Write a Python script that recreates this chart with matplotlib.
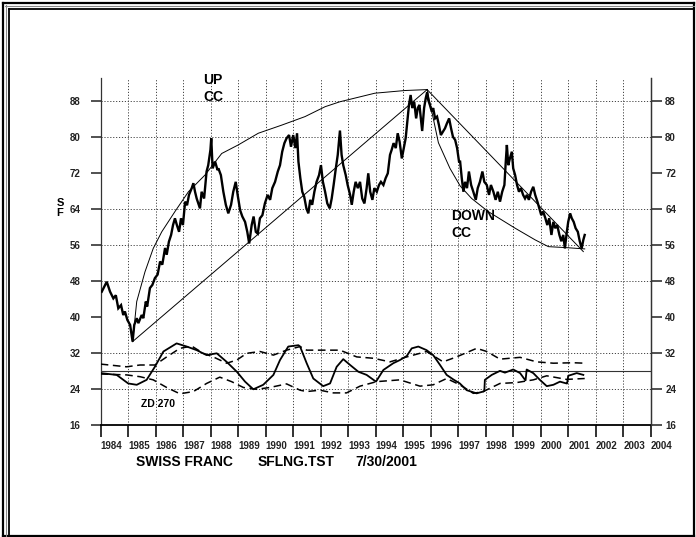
import matplotlib
matplotlib.use('Agg')
import matplotlib.pyplot as plt
from matplotlib.lines import Line2D

plt.rcParams['font.family'] = ['Liberation Sans', 'DejaVu Sans']

# ---------------- data ----------------
year_ticks = list(range(1984, 2005))
y_ticks = [16, 24, 32, 40, 48, 56, 64, 72, 80, 88]
grid_y = [24, 32, 48, 56, 64, 80, 88]
ref_level = 28

price_t = [1984.04, 1984.22, 1984.34, 1984.46, 1984.55, 1984.64, 1984.74, 1984.82, 1984.88, 1984.97,
           1985.07, 1985.16, 1985.22, 1985.31, 1985.37, 1985.49, 1985.55, 1985.64, 1985.69, 1985.79,
           1985.88, 1985.97, 1986.07, 1986.16, 1986.24, 1986.34, 1986.40, 1986.48, 1986.56, 1986.63,
           1986.70, 1986.77, 1986.85, 1986.92, 1986.99, 1987.07, 1987.14, 1987.21, 1987.31, 1987.37,
           1987.43, 1987.49, 1987.61, 1987.67, 1987.76, 1987.85, 1987.91, 1987.99, 1988.02, 1988.07,
           1988.16, 1988.25, 1988.28, 1988.37, 1988.46, 1988.55, 1988.64, 1988.74, 1988.82, 1988.91,
           1988.98, 1989.07, 1989.15, 1989.25, 1989.33, 1989.40, 1989.49, 1989.56, 1989.64, 1989.71,
           1989.79, 1989.88, 1989.97, 1990.07, 1990.16, 1990.24, 1990.34, 1990.44, 1990.52, 1990.60,
           1990.68, 1990.76, 1990.85, 1990.92, 1991.00, 1991.08, 1991.14, 1991.19, 1991.26, 1991.33,
           1991.40, 1991.48, 1991.55, 1991.62, 1991.69, 1991.77, 1991.85, 1991.94, 1992.01, 1992.08,
           1992.16, 1992.24, 1992.33, 1992.40, 1992.47, 1992.55, 1992.62, 1992.70, 1992.76, 1992.82,
           1992.91, 1992.98, 1993.07, 1993.13, 1993.20, 1993.27, 1993.35, 1993.43, 1993.51, 1993.59,
           1993.67, 1993.73, 1993.80, 1993.88, 1993.95, 1994.04, 1994.12, 1994.19, 1994.28, 1994.36,
           1994.44, 1994.52, 1994.58, 1994.65, 1994.73, 1994.80, 1994.87, 1994.95, 1995.02, 1995.09,
           1995.15, 1995.21, 1995.27, 1995.33, 1995.40, 1995.47, 1995.53, 1995.59, 1995.65, 1995.69,
           1995.76, 1995.82, 1995.87, 1995.91, 1995.97, 1996.04, 1996.09, 1996.16, 1996.23, 1996.30,
           1996.37, 1996.44, 1996.52, 1996.59, 1996.67, 1996.74, 1996.81, 1996.89, 1996.96, 1997.03,
           1997.07, 1997.13, 1997.19, 1997.25, 1997.32, 1997.39, 1997.47, 1997.55, 1997.64, 1997.71,
           1997.79, 1997.88, 1997.95, 1998.04, 1998.12, 1998.19, 1998.28, 1998.36, 1998.44, 1998.52,
           1998.60, 1998.68, 1998.73, 1998.77, 1998.82, 1998.88, 1998.95, 1999.00, 1999.07, 1999.14,
           1999.21, 1999.28, 1999.36, 1999.43, 1999.50, 1999.57, 1999.65, 1999.73, 1999.80, 1999.88,
           1999.95, 2000.02, 2000.09, 2000.17, 2000.24, 2000.31, 2000.39, 2000.46, 2000.53, 2000.60,
           2000.68, 2000.75, 2000.82, 2000.88, 2000.95, 2001.00, 2001.07, 2001.13, 2001.20, 2001.27,
           2001.35, 2001.42, 2001.49, 2001.55, 2001.60]
price_v = [45.7, 47.9, 45.7, 44.2, 44.9, 42.0, 42.7, 40.5, 41.3, 39.4,
           38.3, 34.6, 38.3, 39.8, 38.7, 40.5, 39.8, 43.5, 42.4, 46.5,
           47.2, 48.7, 49.5, 52.4, 51.7, 55.4, 53.9, 56.8, 58.3, 60.5,
           62.0, 60.5, 59.0, 62.0, 60.5, 65.7, 64.9, 67.2, 68.7, 69.8,
           67.9, 66.4, 64.2, 67.9, 66.4, 72.4, 73.8, 77.2, 79.8, 73.1,
           74.6, 72.7, 73.1, 71.6, 67.9, 65.0, 63.1, 65.0, 67.9, 70.1,
           67.2, 63.8, 62.4, 61.2, 59.0, 56.4, 60.5, 62.4, 59.0, 58.6,
           62.0, 62.7, 65.3, 67.2, 66.1, 68.7, 70.1, 72.4, 73.8, 76.8,
           78.7, 79.8, 80.5, 77.9, 80.5, 77.6, 80.9, 74.6, 70.9, 67.9,
           66.8, 64.2, 63.1, 66.1, 65.0, 67.9, 70.1, 71.6, 73.8, 70.1,
           67.9, 65.3, 64.2, 66.4, 69.4, 73.1, 76.1, 81.5, 76.1, 73.8,
           71.6, 69.4, 67.2, 65.0, 67.9, 70.1, 68.7, 70.1, 66.4, 65.3,
           68.7, 72.0, 67.9, 66.1, 68.7, 67.9, 69.4, 70.1, 69.4, 70.9,
           72.0, 76.1, 77.2, 78.7, 77.6, 80.9, 79.0, 75.3, 77.6, 79.8,
           83.6, 87.2, 89.4, 86.5, 87.9, 84.2, 86.5, 87.2, 83.6, 81.4,
           86.5, 88.7, 90.0, 88.3, 87.2, 85.7, 86.5, 84.2, 84.6, 82.7,
           80.5, 81.2, 82.0, 83.1, 84.2, 82.0, 80.1, 79.4, 77.6, 74.6,
           74.6, 70.9, 67.9, 70.1, 68.7, 72.4, 69.4, 67.9, 66.1, 68.7,
           70.1, 72.4, 70.1, 69.4, 67.2, 69.4, 67.9, 66.1, 67.9, 65.7,
           67.9, 69.4, 74.6, 78.3, 73.8, 75.3, 76.8, 73.1, 71.6, 69.4,
           67.9, 68.7, 67.2, 66.4, 67.2, 66.1, 67.9, 69.0, 67.2, 65.7,
           64.2, 62.7, 63.5, 62.0, 60.5, 62.0, 58.3, 61.2, 59.8, 60.5,
           58.3, 56.9, 58.3, 55.3, 59.0, 61.2, 63.1, 62.0, 61.2, 59.8,
           59.0, 56.9, 55.3, 57.2, 58.3]

up_cc_t = [1985.16, 1985.31, 1985.61, 1985.91, 1986.22, 1986.70, 1987.19, 1987.79, 1988.40,
           1989.00, 1989.73, 1990.58, 1991.43, 1992.16, 1992.70, 1993.97, 1995.07, 1995.87]
up_cc_v = [34.6, 43.5, 50.1, 55.3, 59.0, 63.5, 67.9, 71.6, 76.4,
           78.3, 80.9, 82.7, 84.6, 86.8, 87.9, 89.8, 90.4, 90.6]
up_chord_t = [1985.16, 1995.87]
up_chord_v = [34.6, 90.6]

down_cc_t = [1995.87, 1996.10, 1996.28, 1996.70, 1997.07, 1997.49, 1998.09, 1999.07, 1999.80,
             2000.28, 2000.88, 2001.60]
down_cc_v = [90.6, 84.0, 78.8, 73.1, 69.2, 66.4, 63.5, 59.8, 57.2,
             55.7, 55.5, 55.2]
down_chord_t = [1995.87, 2001.55]
down_chord_v = [90.6, 54.6]

osc_t = [1984.00, 1984.58, 1985.00, 1985.31, 1985.67, 1985.97, 1986.28, 1986.76, 1987.13, 1987.49,
         1987.85, 1988.22, 1988.58, 1988.95, 1989.25, 1989.55, 1989.91, 1990.28, 1990.52, 1990.82,
         1991.19, 1991.25, 1991.49, 1991.73, 1992.09, 1992.34, 1992.58, 1992.82, 1993.07, 1993.37,
         1993.67, 1994.01, 1994.28, 1994.64, 1994.88, 1995.13, 1995.31, 1995.55, 1995.85, 1996.09,
         1996.34, 1996.58, 1996.82, 1997.06, 1997.31, 1997.67, 1997.91, 1997.95, 1997.97, 1998.22,
         1998.52, 1998.70, 1999.00, 1999.25, 1999.43, 1999.45, 1999.49, 1999.73, 1999.97, 2000.22,
         2000.46, 2000.70, 2000.94, 2000.96, 2001.00, 2001.31, 2001.55]
osc_v = [27.6, 27.2, 25.3, 25.0, 26.1, 29.0, 32.4, 34.2, 33.5, 32.7,
         31.6, 32.0, 30.1, 27.9, 25.7, 24.0, 25.0, 27.2, 30.5, 33.5,
         33.8, 33.5, 29.8, 26.4, 24.7, 25.3, 29.0, 30.7, 29.4, 27.9,
         27.2, 25.7, 28.3, 29.8, 30.5, 31.4, 33.1, 33.5, 32.7, 31.6,
         29.4, 27.2, 26.2, 25.3, 23.8, 23.1, 23.5, 23.6, 26.1, 27.2,
         28.1, 27.7, 28.4, 27.6, 26.1, 26.0, 28.4, 27.6, 26.1, 24.7,
         25.0, 25.7, 25.3, 25.3, 27.0, 27.6, 27.2]

upper_t = [1984.00, 1984.94, 1985.43, 1985.97, 1986.40, 1986.88, 1987.31, 1987.73, 1988.09, 1988.58,
           1988.95, 1989.31, 1989.79, 1990.28, 1990.76, 1991.25, 1991.49, 1991.97, 1992.70, 1993.31,
           1993.91, 1994.52, 1995.13, 1995.85, 1996.45, 1996.94, 1997.67, 1998.04, 1998.52, 1999.25,
           1999.85, 2000.46, 2001.19, 2001.60]
upper_v = [29.6, 29.0, 29.4, 29.4, 31.2, 33.1, 33.6, 32.0, 31.2, 29.8,
           30.5, 32.0, 32.4, 31.6, 32.7, 33.5, 32.7, 32.7, 32.7, 31.2,
           30.9, 30.1, 31.2, 32.4, 30.1, 31.2, 33.1, 32.4, 30.7, 31.1,
           30.1, 29.8, 29.9, 29.8]

lower_t = [1984.00, 1984.94, 1985.43, 1985.91, 1986.40, 1986.88, 1987.37, 1987.85, 1988.33, 1988.76,
           1989.19, 1989.67, 1990.15, 1990.76, 1991.25, 1991.49, 1991.97, 1992.46, 1992.94, 1993.43,
           1994.03, 1994.88, 1995.61, 1996.09, 1996.58, 1997.06, 1997.55, 1997.91, 1998.52, 1999.13,
           1999.73, 2000.22, 2000.94, 2001.60]
lower_v = [27.4, 27.2, 26.8, 26.1, 24.4, 23.0, 23.5, 25.3, 26.7, 25.7,
           24.4, 24.0, 24.4, 25.2, 23.8, 23.5, 23.8, 23.2, 23.2, 24.7,
           25.7, 26.1, 24.7, 25.0, 26.4, 25.0, 23.1, 23.5, 25.3, 25.5,
           26.1, 27.0, 26.2, 26.4]

# ---------------- figure ----------------
W_PX, H_PX = 696, 537
fig = plt.figure(figsize=(W_PX / 100, H_PX / 100), dpi=100)

ax_l, ax_r, ax_b, ax_t = 100.7, 650.7, 425.3, 78.0
ax = fig.add_axes([ax_l / W_PX, 1 - ax_b / H_PX, (ax_r - ax_l) / W_PX, (ax_b - ax_t) / H_PX])
y_top = 16 + (ax_b - ax_t) / 4.5
ax.set_xlim(1984, 2004)
ax.set_ylim(16, y_top)

# grid
for yr in year_ticks[1:-1]:
    ax.axvline(yr, color='#444444', lw=0.7, ls=(0, (1.2, 1.8)), zorder=1)
for gy in grid_y:
    ax.axhline(gy, color='#444444', lw=0.7, ls=(0, (1.2, 1.8)), zorder=1)
ax.axhline(ref_level, color='#333333', lw=0.8, zorder=2)

# price and curves
ax.plot(price_t, price_v, color='black', lw=1.7, solid_joinstyle='miter', zorder=4)
ax.plot(up_cc_t, up_cc_v, color='black', lw=0.7, zorder=3)
ax.plot(up_chord_t, up_chord_v, color='black', lw=0.7, zorder=3)
ax.plot(down_cc_t, down_cc_v, color='black', lw=0.7, zorder=3)
ax.plot(down_chord_t, down_chord_v, color='black', lw=0.7, zorder=3)

# oscillator
ax.plot(osc_t, osc_v, color='black', lw=1.3, zorder=4)
ax.plot(upper_t, upper_v, color='black', lw=1.1, ls=(0, (5, 3)), zorder=3)
ax.plot(lower_t, lower_v, color='black', lw=1.1, ls=(0, (5, 3)), zorder=3)

# spines
ax.spines['top'].set_visible(False)
for s in ('left', 'right'):
    ax.spines[s].set_color('#333333')
    ax.spines[s].set_linewidth(0.9)
ax.spines['bottom'].set_color('black')
ax.spines['bottom'].set_linewidth(1.3)

# x ticks
ax.set_xticks(year_ticks)
ax.set_xticklabels([str(y) for y in year_ticks], fontsize=7, fontweight='bold')
for lbl in ax.get_xticklabels():
    lbl.set_horizontalalignment('left')
ax.tick_params(axis='x', direction='out', length=8.6, width=1.3, pad=3, colors='#222222')

# y ticks left
ax.set_yticks(y_ticks)
ax.set_yticklabels([str(v) for v in y_ticks], fontsize=7, fontweight='bold')
ax.tick_params(axis='y', direction='out', length=7.2, width=1.1, pad=7.2, colors='#222222')

# y ticks right via twin
ax2 = ax.twinx()
ax2.set_ylim(16, y_top)
ax2.set_yticks(y_ticks)
ax2.set_yticklabels([str(v) for v in y_ticks], fontsize=7, fontweight='bold')
ax2.tick_params(axis='y', direction='out', length=8.0, width=1.1, pad=2.4, colors='#222222')
for s in ('top', 'left', 'bottom'):
    ax2.spines[s].set_visible(False)
ax2.spines['right'].set_color('#333333')
ax2.spines['right'].set_linewidth(0.9)

# annotations
ax.text(1987.72, 92.7, 'UP', fontsize=10, fontweight='bold', ha='left', va='center', zorder=5)
ax.text(1987.72, 89.0, 'CC', fontsize=10, fontweight='bold', ha='left', va='center', zorder=5)
ax.text(1996.74, 62.5, 'DOWN', fontsize=10, fontweight='bold', ha='left', va='center', zorder=5)
ax.text(1996.74, 58.7, 'CC', fontsize=10, fontweight='bold', ha='left', va='center', zorder=5)
ax.text(1985.47, 20.7, 'ZD 270', fontsize=7.5, fontweight='bold', ha='left', va='center', zorder=5)

# y label S / F
fig.text(60 / W_PX, 1 - 203 / H_PX, 'S', fontsize=8, fontweight='bold', ha='center', va='center')
fig.text(60 / W_PX, 1 - 213 / H_PX, 'F', fontsize=8, fontweight='bold', ha='center', va='center')

# title line
fig.text(136 / W_PX, 1 - 462 / H_PX, 'SWISS FRANC', fontsize=10, fontweight='bold', ha='left', va='center')
fig.text(258 / W_PX, 1 - 462 / H_PX, 'SFLNG.TST', fontsize=10, fontweight='bold', ha='left', va='center')
fig.text(355 / W_PX, 1 - 462 / H_PX, '7/30/2001', fontsize=10, fontweight='bold', ha='left', va='center')

# frame
def fx(px):
    return px / W_PX

def fy(py):
    return 1 - py / H_PX

frame_lines = [
    ([fx(2.5), fx(694)], [fy(2.5), fy(2.5)], 1.6, 'black'),
    ([fx(2.5), fx(2.5)], [fy(2.5), fy(536)], 1.6, 'black'),
    ([fx(2.5), fx(694)], [fy(536), fy(536)], 1.6, 'black'),
    ([fx(694), fx(694)], [fy(2.5), fy(536)], 1.6, 'black'),
    ([fx(5), fx(694)], [fy(5.5), fy(5.5)], 0.8, '#888888'),
    ([fx(5.5), fx(5.5)], [fy(5), fy(536)], 0.8, '#888888'),
    ([fx(8.5), fx(694)], [fy(9), fy(9)], 1.3, 'black'),
    ([fx(8.5), fx(8.5)], [fy(9), fy(536)], 1.3, 'black'),
]
for xs, ys, lw, c in frame_lines:
    fig.add_artist(Line2D(xs, ys, transform=fig.transFigure, lw=lw, color=c))

fig.savefig('out.png', dpi=100)
